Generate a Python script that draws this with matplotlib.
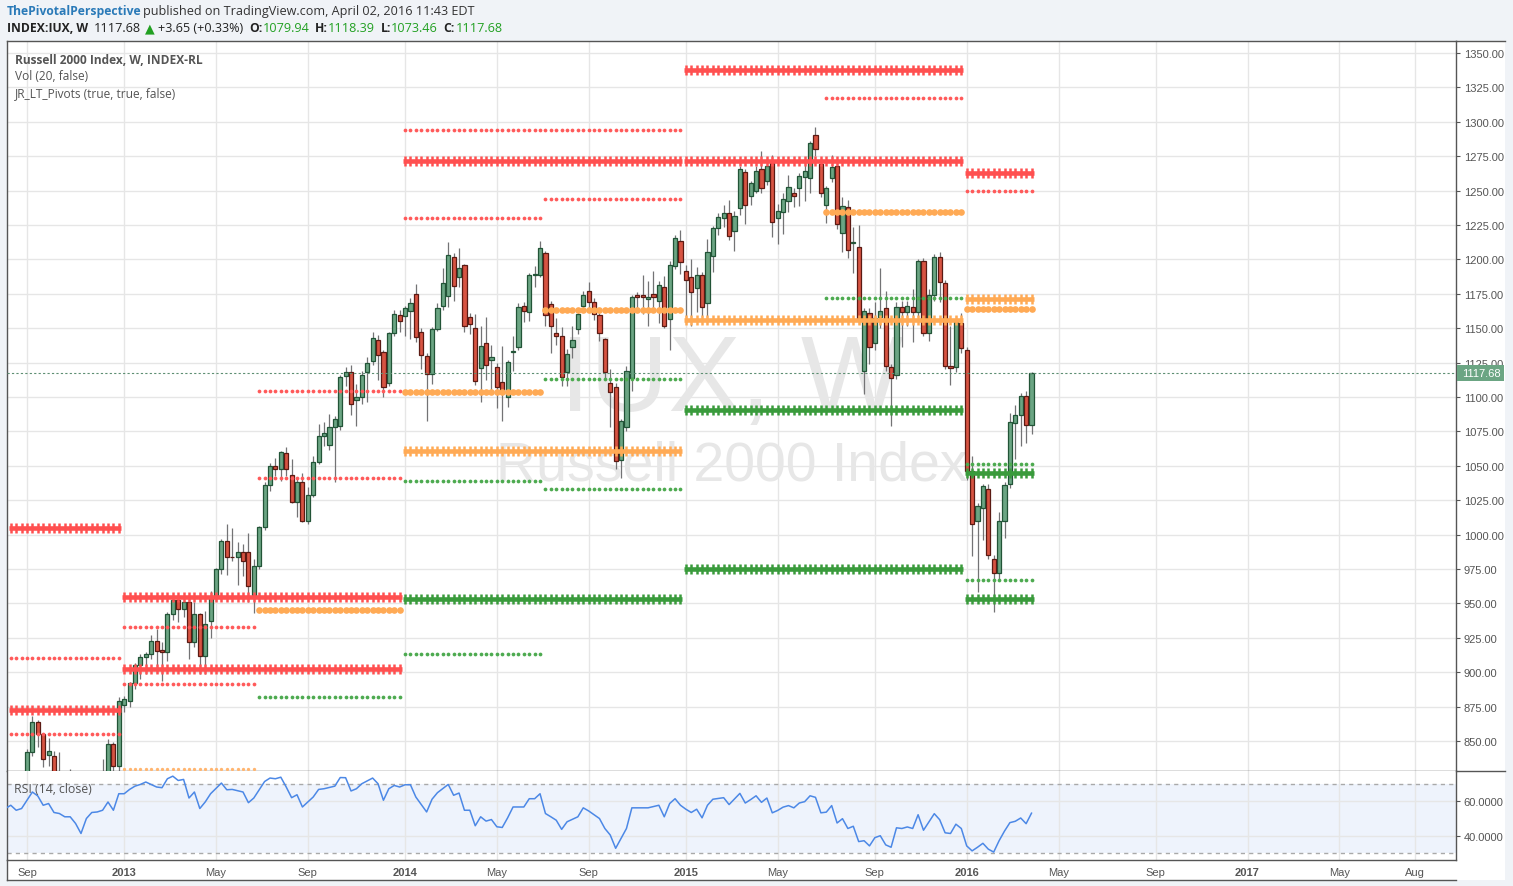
import matplotlib
matplotlib.use("Agg")
import matplotlib.pyplot as plt
import matplotlib.dates as mdates
from matplotlib.patches import Rectangle
from matplotlib.lines import Line2D
from matplotlib.ticker import FormatStrFormatter
import numpy as np
import pandas as pd

W, H, DPI = 1513, 887, 100

# ---------------- data ----------------
first_bar = "2012-09-03"   # weekly bars (Mondays)

opens = [815, 842, 864, 855, 840, 839, 822, 818, 812, 806,
         790, 778, 808, 818, 822, 824, 848, 832, 876.2, 879,
         892, 905, 911, 913, 922.5, 916.4, 914.5, 942, 952.3, 945.7,
         950.8, 922.2, 942.1, 912, 937.5, 954.4, 975, 995.6, 984, 983.5,
         987.1, 987, 956.3, 977, 1005.3, 1036, 1050, 1048, 1059, 1043.3,
         1024, 1038, 1010, 1029, 1053, 1072, 1065.3, 1078, 1078.7, 1115,
         1118, 1098, 1099.7, 1118, 1126.4, 1141.6, 1132.4, 1110, 1146.3, 1159.6,
         1158.6, 1162.7, 1175, 1147, 1129.6, 1116.7, 1149.4, 1166.4, 1173.6, 1201.5,
         1187, 1196, 1157.9, 1150, 1120.8, 1139, 1126.9, 1121.6, 1111.2, 1099.8,
         1132.5, 1136.1, 1165.9, 1161.5, 1189, 1189, 1204.4, 1167.6, 1146.3, 1144.6,
         1118, 1136, 1149.4, 1166.4, 1176.8, 1168.8, 1159.6, 1142.2, 1110.2, 1107,
         1054.2, 1078, 1113.5, 1174, 1174, 1171.2, 1174.8, 1170, 1179.7, 1156.7,
         1195.4, 1213.6, 1191.8, 1187, 1179, 1188.6, 1168, 1202.2, 1222.5, 1229.8,
         1233.4, 1220.4, 1237, 1263.7, 1246.3, 1249.9, 1265.7, 1257.2, 1269.8, 1229.8,
         1234.2, 1242.6, 1248.2, 1251.6, 1259.6, 1258.9, 1290.4, 1269.3, 1239.5, 1258.9,
         1268.1, 1219.2, 1237.8, 1212, 1208.7, 1119.1, 1160.8, 1139, 1157.9, 1164.4,
         1121.5, 1116, 1165.1, 1161.5, 1165.1, 1161.5, 1199, 1146.2, 1174.3, 1201.9,
         1182.6, 1122.7, 1121.5, 1153.7, 1134.1, 1046, 1009.6, 1019, 1033.1, 982.2,
         972.1, 1009.6, 1036.7, 1081.1, 1086.9, 1100.9, 1079.94]
highs = [844, 868, 865, 856, 852.5, 842.5, 842, 826, 830, 815,
         800, 812, 825, 826, 837, 851.5, 849, 881.7, 883, 893,
         907, 913, 914.5, 927.3, 931.4, 921.7, 943.5, 953, 953.5, 953.2,
         953, 951.3, 943, 944.7, 959, 976, 997, 1007.7, 1005, 994.4,
         993, 1001, 982.3, 1006, 1038, 1052, 1056, 1061, 1064, 1055,
         1041, 1044.7, 1034.3, 1057, 1080.4, 1081.6, 1087.6, 1086, 1116, 1121.5,
         1123, 1109.4, 1119, 1128.8, 1147, 1145, 1134.4, 1147.5, 1163, 1163,
         1166, 1172, 1182, 1150, 1132, 1151, 1168.3, 1193.5, 1212.4, 1205,
         1208, 1197, 1161, 1160.3, 1151.8, 1158, 1137.8, 1125, 1137.3, 1127,
         1144.6, 1168.3, 1169, 1190, 1195, 1213, 1206, 1170, 1157.2, 1150.6,
         1135, 1151.4, 1165, 1177.3, 1183.8, 1172, 1161, 1143, 1120.4, 1110,
         1084, 1122.7, 1174, 1176, 1189, 1184, 1191.3, 1184.5, 1188, 1199,
         1218, 1221.3, 1196, 1200, 1194.2, 1191, 1214.8, 1224, 1234, 1239.5,
         1243.4, 1235, 1268, 1266, 1257, 1268.1, 1278.5, 1274, 1275.8, 1240,
         1248, 1261.3, 1252, 1263, 1271, 1286, 1296.4, 1273.4, 1253.5, 1275.8,
         1270, 1245.1, 1243, 1223.3, 1225, 1165, 1164.4, 1169, 1193.5, 1177.2,
         1124, 1169.2, 1170, 1170, 1178.5, 1200.3, 1201, 1178.5, 1203.9, 1205.6,
         1185, 1151.8, 1159.1, 1161, 1136, 1056.9, 1023, 1037, 1036.7, 985,
         1016.1, 1038, 1088.3, 1094.2, 1102.9, 1104, 1118.39]
lows = [810, 839, 846, 831, 832, 815, 808, 805, 800, 786,
        766, 776, 805, 810, 815, 820, 825, 826, 870.8, 875,
        888, 895, 898.7, 909.6, 899.4, 893.9, 908.4, 938, 936.8, 940.4,
        909.6, 918, 898.7, 898.7, 924.6, 952, 971.3, 970.6, 980.6, 963.4,
        970, 951.3, 943, 975, 1003, 1032, 1042.8, 1039, 1042.8, 1023,
        1012.5, 1009.4, 1008, 1027, 1051, 1064.6, 1061.7, 1038, 1076, 1108,
        1087, 1079, 1095, 1096.6, 1123, 1112, 1099.7, 1108, 1144, 1147,
        1144.6, 1142, 1140, 1120.4, 1082.8, 1109.5, 1148, 1163, 1165.2, 1170,
        1180, 1147, 1146, 1108.7, 1096.1, 1112, 1103.4, 1091.8, 1082.8, 1092.5,
        1119.1, 1134, 1154.7, 1155, 1180, 1187, 1151.4, 1132, 1138, 1108.2,
        1108, 1128, 1146, 1161.5, 1162, 1156, 1141, 1112, 1078, 1048,
        1040.9, 1075, 1104.6, 1165, 1160, 1151.8, 1163.9, 1153.7, 1150, 1134.4,
        1193, 1189.4, 1153.7, 1151.8, 1161.5, 1157, 1153.7, 1190.6, 1218, 1223.3,
        1214, 1206.3, 1232, 1225.7, 1239.5, 1248, 1248.2, 1254, 1216, 1211.2,
        1218.4, 1234.2, 1238, 1239, 1242.6, 1248.2, 1275, 1245.1, 1226.4, 1256,
        1222, 1205.6, 1200.7, 1190.1, 1153, 1102.1, 1124, 1134, 1150, 1119.1,
        1078.6, 1113, 1136, 1151.8, 1140.2, 1158, 1144.5, 1140.9, 1170, 1168.8,
        1120, 1108.7, 1118, 1132, 1040, 984.2, 958.5, 996.3, 982, 943.5,
        968, 997.3, 1033.6, 1054.9, 1064.1, 1066.5, 1073.46]
closes = [842, 864, 855, 837, 842.5, 822, 818, 812, 806, 790,
          778, 808, 818, 822, 826, 848, 832, 879, 880.5, 892,
          905, 911, 913, 922.5, 915.7, 914.5, 942, 952.3, 945.7, 950.8,
          922.2, 942.1, 912, 934.8, 953.7, 975, 995.6, 983.5, 983.5, 987.1,
          980.6, 963, 977, 1005.3, 1036, 1050.1, 1048, 1059.8, 1048, 1023.9,
          1038, 1010, 1029, 1053, 1072, 1073.6, 1078, 1084, 1114.3, 1118,
          1095, 1099.7, 1116, 1124.7, 1142.6, 1130.7, 1107, 1146.3, 1160, 1155.5,
          1164.4, 1168.3, 1143.4, 1130.5, 1116.7, 1149.4, 1164.4, 1182.6, 1203.2, 1180.9,
          1193.5, 1151.4, 1153.1, 1111.4, 1137.3, 1123.3, 1128.8, 1107, 1102.9, 1125.7,
          1133.7, 1165.2, 1162.3, 1188.7, 1189.5, 1208, 1159.6, 1151.4, 1144.1, 1114.3,
          1131, 1141.4, 1160.3, 1174.1, 1169.3, 1160.3, 1146.3, 1118.4, 1103.9, 1053.2,
          1082.3, 1118.6, 1172.9, 1173, 1172.5, 1172.4, 1172.9, 1181.6, 1151.8, 1196,
          1215.3, 1198.3, 1185.2, 1176, 1188.6, 1165.1, 1205.1, 1222.5, 1231, 1233.4,
          1217.2, 1231.7, 1266, 1239.5, 1255.2, 1264.5, 1251.6, 1267.6, 1227.4, 1234.9,
          1243.9, 1252.3, 1246.3, 1260.8, 1264.5, 1284.3, 1280.2, 1248.2, 1251.6, 1266.9,
          1225.7, 1238.5, 1206.8, 1212.5, 1156.7, 1162.7, 1136.1, 1157.1, 1162.7, 1122.3,
          1113.5, 1165.1, 1162, 1165.9, 1161.5, 1199, 1146.2, 1174.3, 1201.9, 1183.3,
          1122.7, 1120.8, 1154.2, 1135.3, 1046, 1007.7, 1021, 1035, 985.1, 972.1,
          1009.6, 1036.3, 1081.6, 1087.1, 1100.9, 1079.6, 1117.68]

# RSI(14) readings: week number relative to first_bar, value
rsi_week = [-4, -3, -2, -1, 0, 1, 2, 3, 4, 5, 6, 7, 8, 9, 10, 11, 12, 13, 14, 15,
            16, 17, 18, 19, 20, 21, 22, 24, 25, 26, 27, 28, 29, 30, 31, 32, 33, 34, 36, 37,
            38, 40, 41, 42, 44, 45, 46, 47, 48, 49, 50, 51, 53, 54, 55, 57, 58, 59, 60, 61,
            62, 64, 65, 66, 67, 68, 69, 70, 71, 72, 74, 75, 76, 78, 79, 80, 81, 82, 83, 84,
            85, 86, 87, 88, 89, 90, 92, 93, 94, 95, 96, 97, 98, 99, 100, 102, 103, 104, 106, 107,
            108, 109, 111, 112, 115, 117, 118, 119, 120, 121, 122, 123, 124, 125, 126, 127, 129, 130,
            132, 133, 134, 135, 136, 137, 138, 139, 140, 141, 142, 143, 144, 145, 146, 147, 148, 149,
            150, 151, 152, 153, 154, 155, 156, 157, 158, 159, 160, 161, 162, 163, 164, 165, 166, 167,
            168, 169, 170, 171, 172, 173, 174, 175, 176, 177, 178, 179, 180, 181, 182, 183, 184, 185, 186]
rsi_value = [55.8, 57.7, 54.8, 55.8, 60.6, 65.4, 63.1, 57.7, 58.7, 53.5, 52.9, 51.0, 51.0, 47.1, 41.3, 50.0, 53.5, 53.8, 54.8, 59.6,
             54.8, 64.4, 64.4, 66.9, 68.8, 69.8, 71.2, 68.3, 67.9, 73.1, 74.6, 72.1, 72.7, 61.9, 65.4, 55.8, 59.6, 64.4, 70.6, 66.7,
             66.9, 65.4, 59.2, 61.9, 71.5, 73.5, 73.1, 74.0, 68.3, 62.1, 63.8, 56.7, 62.5, 66.9, 67.3, 68.8, 73.8, 73.7, 66.0, 67.3,
             70.2, 73.5, 70.2, 60.6, 67.3, 69.2, 68.3, 69.6, 69.6, 62.5, 53.8, 61.2, 65.0, 69.8, 63.5, 64.8, 54.8, 54.8, 45.8, 51.0,
             48.5, 49.4, 45.2, 44.8, 50.4, 56.7, 56.7, 61.5, 61.5, 64.4, 52.9, 51.0, 49.0, 43.7, 48.1, 51.0, 56.2, 54.4, 50.0, 44.2,
             40.4, 32.7, 44.2, 56.2, 56.2, 57.7, 51.0, 58.7, 61.5, 57.7, 55.4, 53.5, 55.4, 50.4, 57.7, 61.2, 62.1, 58.1,
             64.6, 59.0, 61.0, 63.2, 59.4, 61.9, 53.3, 54.7, 56.6, 57.5, 56.2, 59.0, 59.8, 63.2, 62.3, 53.3, 53.7, 57.5,
             47.4, 49.9, 44.2, 45.5, 36.6, 37.1, 34.1, 38.9, 40.0, 34.7, 33.3, 44.6, 44.2, 45.1, 44.2, 52.2, 43.2, 48.0,
             52.8, 49.3, 41.7, 41.3, 46.7, 44.2, 34.1, 31.2, 33.3, 35.6, 32.2, 30.5, 37.1, 42.7, 47.6, 48.4, 50.3, 47.0, 53.1]

# Long-term pivot levels (JR_LT_Pivots): level, first week, last week, kind
pivot_level = [1004.7, 872.5, 910.2, 854.9,
               955.0, 902.3, 932.7, 891.3, 829.5,
               1104.2, 1041.1, 945.2, 882.1,
               1271.8, 1060.9, 953.0, 1294.0,
               1230.0, 1103.5, 1038.8, 913.2,
               1243.8, 1163.2, 1113.1, 1033.0,
               1337.6, 1271.6, 1155.9, 1090.4, 975.0,
               1317.3, 1234.3, 1172.2,
               1263.0, 1249.4, 1171.5, 1163.6, 1051.1, 1044.8, 966.9, 953.2]
pivot_from = [-3, -3, -3, -3,
              18, 18, 18, 18, 18,
              43, 43, 43, 43,
              70, 70, 70, 70,
              70, 70, 70, 70,
              96, 96, 96, 96,
              122, 122, 122, 122, 122,
              148, 148, 148,
              174, 174, 174, 174, 174, 174, 174, 174]
pivot_to = [17, 17, 17, 17,
            69, 69, 42, 42, 42,
            69, 69, 69, 69,
            121, 121, 121, 121,
            95, 95, 95, 95,
            121, 121, 121, 121,
            173, 173, 173, 173, 173,
            173, 173, 173,
            186, 186, 186, 186, 186, 186, 186, 186]
pivot_kind = ["R_thick", "R_thick", "R_dot", "R_dot",
              "R_thick", "R_thick", "R_dot", "R_dot", "P_dot",
              "R_dot", "R_dot", "P_circle", "S_dot",
              "R_thick", "P_thick", "S_thick", "R_dot",
              "R_dot", "P_circle", "S_dot", "S_dot",
              "R_dot", "P_circle", "S_dot", "S_dot",
              "R_thick", "R_thick", "P_thick", "S_thick", "S_thick",
              "R_dot", "P_circle", "S_dot",
              "R_thick", "R_dot", "P_thick", "P_circle", "S_dot", "S_thick", "S_dot", "S_thick"]

tick_dates = ["2012-09-03", "2013-01-07", "2013-05-06", "2013-09-02", "2014-01-06", "2014-05-05",
              "2014-09-01", "2015-01-05", "2015-05-04", "2015-09-07", "2016-01-04", "2016-05-02",
              "2016-09-05", "2017-01-02", "2017-05-01", "2017-08-07"]
tick_labels = ["Sep", "2013", "May", "Sep", "2014", "May", "Sep", "2015", "May", "Sep", "2016",
               "May", "Sep", "2017", "May", "Aug"]
price_ticks = list(range(850, 1351, 25))
last_price = 1117.68

# ---------------- styles ----------------
UP_FILL, UP_EDGE = "#6BA583", "#225437"
DN_FILL, DN_EDGE = "#D75442", "#5B1A13"
WICK = "#737375"
pivot_color = {"R": "#FF5050", "P": "#FFAA55", "S": "#3A9B3C"}
dot_color = {"R": "#FF5A5A", "P": "#FFB570", "S": "#4DAA50"}

def fx(x):
    return x / W

def fy(y):
    return 1 - y / H

fig = plt.figure(figsize=(W / DPI, H / DPI), dpi=DPI, facecolor="#F0F3F7")

# white chart frame
fig.patches.append(Rectangle((fx(7), fy(881)), (1505 - 7) / W, (881 - 42) / H,
                             transform=fig.transFigure, facecolor="white",
                             edgecolor="none", zorder=-10))

ax = fig.add_axes([fx(7), fy(772), (1456 - 7) / W, (772 - 42) / H])
rax = fig.add_axes([fx(7), fy(861), (1456 - 7) / W, (861 - 772) / H], sharex=ax)

t0 = mdates.date2num(pd.Timestamp(first_bar))
bar_dates = pd.date_range(first_bar, periods=len(closes), freq="W-MON")
xs = mdates.date2num(bar_dates)
O = np.array(opens); Hh = np.array(highs); L = np.array(lows); C = np.array(closes)

xmin, xmax = t0 - 3.7 * 7, t0 + 264.6 * 7
ax.set_xlim(xmin, xmax)
ax.set_ylim(828.2, 1358.7)

tick_nums = mdates.date2num(pd.to_datetime(tick_dates))

# grid
for a in (ax, rax):
    a.set_axisbelow(True)
    a.set_xticks(tick_nums)
    a.grid(True, color="#E6E6E6", lw=1.0, zorder=0)
ax.set_yticks(price_ticks)

# watermark
ax.text(0.5, 0.533, "IUX, W", transform=ax.transAxes, ha="center", va="center",
        fontsize=78, color="#E7E7E7", family="Liberation Sans", zorder=1)
ax.text(0.5, 0.418, "Russell 2000 Index", transform=ax.transAxes, ha="center", va="center",
        fontsize=40, color="#E7E7E7", family="Liberation Sans", zorder=1)

# candles
ax.vlines(xs, L, Hh, color=WICK, lw=0.9, zorder=2)
up = C >= O
bottom = np.minimum(O, C)
height = np.maximum(np.abs(C - O), 0.4)
ax.bar(xs[up], height[up], bottom=bottom[up], width=5.4, color=UP_FILL,
       edgecolor=UP_EDGE, linewidth=0.9, zorder=3)
ax.bar(xs[~up], height[~up], bottom=bottom[~up], width=5.4, color=DN_FILL,
       edgecolor=DN_EDGE, linewidth=0.9, zorder=3)

# pivots
for lvl, a0, a1, kind in zip(pivot_level, pivot_from, pivot_to, pivot_kind):
    wk = np.arange(a0, a1 + 1)
    px = t0 + 7 * wk
    py = np.full(len(px), lvl)
    side, style = kind.split("_")
    if style == "thick":
        col = pivot_color[side]
        ax.plot([px[0] - 2.6, px[-1] + 2.6], [lvl, lvl], color=col, lw=3.3,
                solid_capstyle="butt", zorder=4)
        ax.plot(px, py, linestyle="none", marker="|", markersize=6.6,
                markeredgewidth=1.8, color=col, zorder=4)
    elif style == "circle":
        ax.plot(px, py, linestyle="none", marker="o", markersize=4.8,
                markeredgewidth=0, color=pivot_color[side], zorder=4)
    else:
        ms = 2.4 if side == "P" else 2.7
        ax.plot(px, py, linestyle="none", marker="o", markersize=ms,
                markeredgewidth=0, color=dot_color[side], zorder=4)

# last price line
ax.axhline(last_price, color="#5E8F73", lw=0.8, ls=(0, (2, 2)), zorder=5)

# axes styling
for a in (ax, rax):
    for s in a.spines.values():
        s.set_color("#555555")
        s.set_linewidth(1)
ax.yaxis.tick_right()
ax.yaxis.set_major_formatter(FormatStrFormatter("%.2f"))
ax.tick_params(axis="y", which="both", length=3, pad=2.5, labelsize=8,
               colors="#555555", labelcolor="#555555")
for lbl in ax.get_yticklabels():
    lbl.set_family("Liberation Sans")
ax.tick_params(axis="x", length=0, labelbottom=False)

# RSI panel
rax.set_ylim(25.9, 77.6)
rax.axhspan(30, 70, color="#EEF3FC", zorder=0.2, lw=0)
rax.set_yticks([40, 60])
rax.axhline(70, color="#A9A9A9", lw=1, ls=(0, (3, 3)), zorder=0.6)
rax.axhline(30, color="#A9A9A9", lw=1, ls=(0, (3, 3)), zorder=0.6)
rsi_x = t0 + 7 * np.array(rsi_week, dtype=float)
rax.plot(rsi_x, rsi_value, color="#4C88E6", lw=1.1, zorder=3)
rax.spines["top"].set_visible(False)
rax.yaxis.tick_right()
rax.yaxis.set_major_formatter(FormatStrFormatter("%.4f"))
rax.tick_params(axis="y", length=3, pad=2.5, labelsize=8, colors="#555555")
for lbl in rax.get_yticklabels():
    lbl.set_family("Liberation Sans")
rax.set_xticklabels(tick_labels)
rax.tick_params(axis="x", length=0, pad=5, labelsize=8, colors="#555555")
for lbl in rax.get_xticklabels():
    lbl.set_family("Liberation Sans")
    if lbl.get_text().isdigit():
        lbl.set_fontweight("bold")
rax.set_xlim(xmin, xmax)

# frame lines
fig.add_artist(Line2D([fx(7), fx(7)], [fy(861), fy(881)], color="#555555", lw=1))
fig.add_artist(Line2D([fx(7), fx(1456)], [fy(881), fy(881)], color="#555555", lw=1))
fig.add_artist(Line2D([fx(1456), fx(1505)], [fy(772), fy(772)], color="#555555", lw=1))
fig.add_artist(Line2D([fx(1456), fx(1505)], [fy(42), fy(42)], color="#555555", lw=1))

# last price badge
fig.patches.append(Rectangle((fx(1457), fy(382)), 47 / W, 16 / H, transform=fig.transFigure,
                             facecolor="#6BA583", edgecolor="none", zorder=5))
fig.text(fx(1481), fy(374), "1117.68", color="white", fontsize=8, ha="center",
         va="center", family="Liberation Sans", zorder=6)

# header
hdr_font = ["Open Sans", "DejaVu Sans"]
GREEN = "#22A022"
runs = [
    (7, 11, "ThePivotalPerspective", "#2A7AB8", "bold"),
    (143, 11, "published on TradingView.com, April 02, 2016 11:43 EDT", "#333333", "normal"),
    (7, 29, "INDEX:IUX, W", "#222222", "bold"),
    (94, 29, "1117.68", "#222222", "normal"),
    (145, 29, "\u25B2", "#22A022", "normal"),
    (158, 29, "+3.65 (+0.33%)", "#222222", "normal"),
    (249, 29, "O:", "#222222", "bold"),
    (263, 29, "1079.94", GREEN, "normal"),
    (315, 29, "H:", "#222222", "bold"),
    (328, 29, "1118.39", GREEN, "normal"),
    (381, 29, "L:", "#222222", "bold"),
    (391, 29, "1073.46", GREEN, "normal"),
    (443, 29, "C:", "#222222", "bold"),
    (456, 29, "1117.68", GREEN, "normal"),
]
for x, y, s, col, wt in runs:
    fig.text(fx(x), fy(y), s, color=col, fontweight=wt,
             fontsize=(8.7 if wt == "bold" else 9.1),
             family=hdr_font, ha="left", va="center")

# pane legends
leg_font = ["Open Sans", "DejaVu Sans"]
fig.text(fx(15), fy(60), "Russell 2000 Index, W, INDEX-RL", color="#555555",
         fontweight="bold", fontsize=8.6, family=leg_font, va="center", zorder=6)
fig.text(fx(15), fy(77), "Vol (20, false)", color="#555555", fontsize=8.6,
         family=leg_font, va="center", zorder=6)
fig.text(fx(15), fy(94), "JR_LT_Pivots (true, true, false)", color="#555555",
         fontsize=8.6, family=leg_font, va="center", zorder=6)
fig.text(fx(14), fy(790), "RSI (14, close)", color="#555555", fontsize=8.8,
         family=leg_font, va="center", zorder=6)

fig.savefig("out.png", dpi=DPI, facecolor=fig.get_facecolor())
